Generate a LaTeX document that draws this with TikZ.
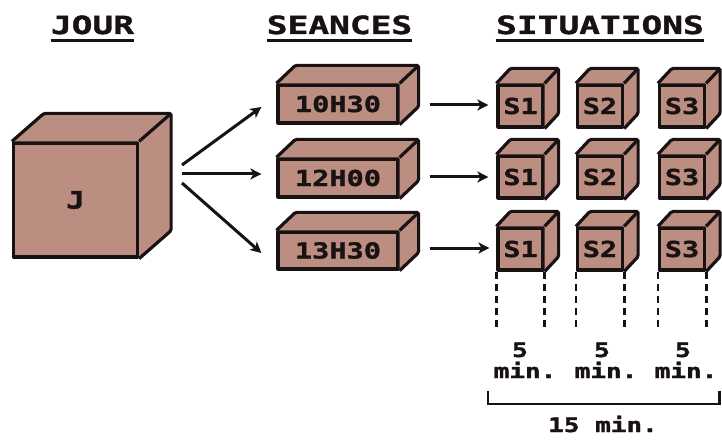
\documentclass[tikz,border=0pt]{standalone}
\usepackage{fontspec}
\newfontfamily\blk[FakeStretch=1.3,FakeBold=1.6]{DejaVu Sans Mono}
\newfontfamily\blkt[FakeStretch=1.38,FakeBold=1.6]{DejaVu Sans Mono}
\usetikzlibrary{arrows.meta}
\definecolor{boxfill}{RGB}{188,142,130}
\definecolor{ink}{RGB}{25,18,18}
\tikzset{
  face/.style={draw=ink, fill=boxfill, line width=3.2pt, inner sep=0pt, line join=round,
    font=\blk\bfseries\fontsize{22}{22}\selectfont, text=ink},
  edge/.style={draw=ink, fill=boxfill, line width=3.2pt, line join=round},
  arr/.style={draw=ink, line width=3pt, -{Stealth[length=11pt,width=11pt,inset=3pt]}},
  dashv/.style={draw=ink, line width=2.8pt, dash pattern=on 7pt off 5pt},
  title/.style={font=\blkt\bfseries\fontsize{25}{25}\selectfont, text=ink, inner sep=0pt, anchor=base},
  small/.style={font=\blk\bfseries\fontsize{20}{20}\selectfont, text=ink, inner sep=0pt, anchor=base},
}
% name, cx, cy, w, h, dx, dy(up), label
\newcommand\MkCube[8]{%
  \fill[boxfill] (#1.north west) -- ++(#6,-#7) -- ([shift={(#6,-#7)}]#1.north east)
     -- ([shift={(#6,-#7)}]#1.south east) -- (#1.south east) -- (#1.north east) -- cycle;
  \draw[edge, fill=none, rounded corners=1.5pt] (#1.north west) -- ++(#6,-#7) -- ([shift={(#6,-#7)}]#1.north east)
     -- ([shift={(#6,-#7)}]#1.south east) -- (#1.south east);
  \draw[edge] (#1.north east) -- ++(#6,-#7);
}
\newcommand\FrontFace[6]{%
  \node[face, minimum width=#4pt, minimum height=#5pt] (#1) at (#2,#3) {#6};
}
\begin{document}
\begin{tikzpicture}[x=1pt,y=-1pt]
\useasboundingbox (0,0) rectangle (722,446);
\fill[white] (0,0) rectangle (722,446);

% titles
\node[title] (tj) at (92.5,34) {JOUR};
\node[title] (ts) at (339.5,34) {SEANCES};
\node[title] (tsi) at (600,34) {SITUATIONS};
\foreach \t in {tj,ts,tsi}
  \draw[ink, line width=3pt] ([yshift=-7pt]\t.base west) -- ([yshift=-7pt]\t.base east);

% day cube
\FrontFace{J}{75.5}{200}{124}{114}{\fontsize{24}{24}\selectfont J}
\MkCube{J}{75.5}{200}{124}{114}{32}{28}{}

% sessions
\FrontFace{sea1}{338}{104}{120}{38}{10H30}
\FrontFace{sea2}{338}{178}{120}{38}{12H00}
\FrontFace{sea3}{338}{250.5}{120}{37}{13H30}
\foreach \n in {sea1,sea2,sea3} {\MkCube{\n}{0}{0}{0}{0}{19}{18}{}}

% situations
\foreach \r/\y in {1/106,2/177,3/249} {
  \foreach \c/\x/\l in {1/520.5/S1,2/600/S2,3/682/S3} {
    \FrontFace{s\r\c}{\x}{\y}{45}{42}{\l}
    \MkCube{s\r\c}{0}{0}{0}{0}{14}{15}{}
  }
}

% arrows from day
\coordinate (j1) at (182,165);
\coordinate (j2) at (182,174);
\coordinate (j3) at (182,183);
\draw[arr] (j1) -- ([shift={(-15,3)}]sea1.west);
\draw[arr] (j2) -- ([shift={(-15,-4)}]sea2.west);
\draw[arr] (j3) -- ([shift={(-15,2.5)}]sea3.west);

% arrows to situations
\coordinate (a1) at ([shift={(30,1)}]sea1.east);
\coordinate (a2) at ([shift={(30,-1)}]sea2.east);
\coordinate (a3) at ([shift={(30,-2.5)}]sea3.east);
\draw[arr] (a1) -- ([xshift=-8pt]s11.west |- a1);
\draw[arr] (a2) -- ([xshift=-8pt]s21.west |- a2);
\draw[arr] (a3) -- ([xshift=-7pt]s31.west |- a3);

% dashed guides
\foreach \c in {1,2,3} {
  \draw[dashv] (s3\c.south west) -- ++(0,58);
  \draw[dashv] (s3\c.south east) -- ++(0,58);
}

% durations
\node[small] (f1) at (520,357) {5};
\node[small] (f2) at (602,357) {5};
\node[small] (f3) at (683,357) {5};
\node[small] (m1) at (525,378) {min.};
\node[small] (m2) at (606,378) {min.};
\node[small] (m3) at (686,378) {min.};

\draw[ink, line width=2.8pt] (488,391) -- (488,404) -- (719.5,404) -- (719.5,391);
\node[small] (tot) at (603,432) {15 min.};
\end{tikzpicture}
\end{document}
